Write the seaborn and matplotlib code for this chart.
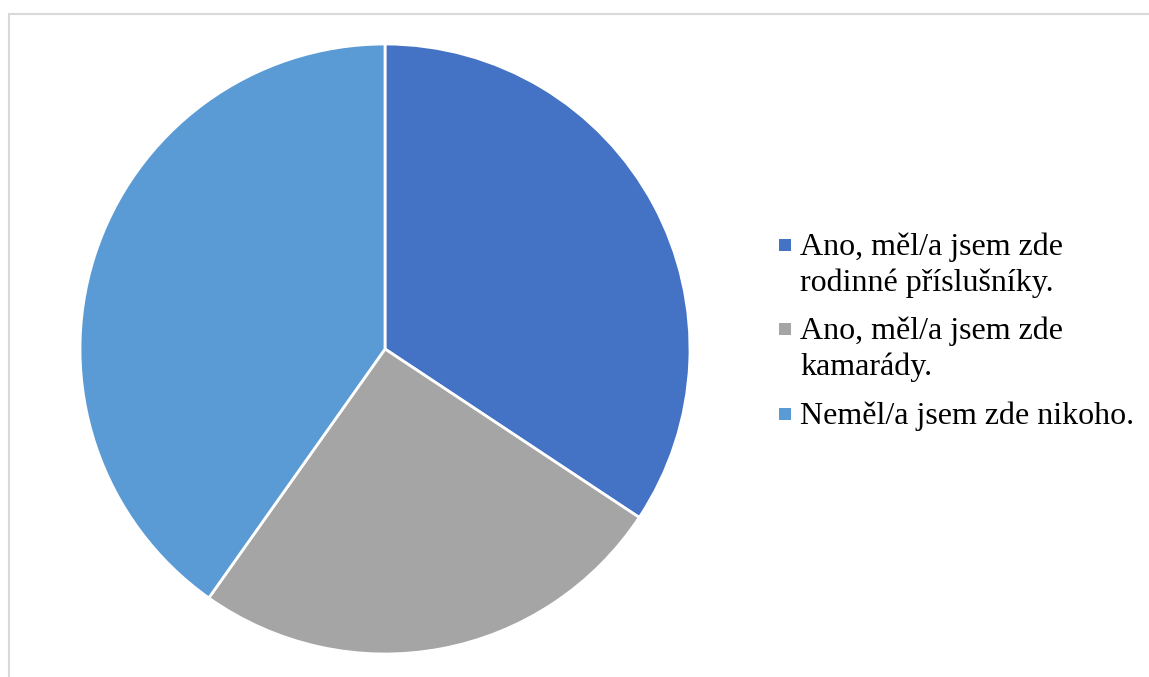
import matplotlib
matplotlib.use("Agg")
import matplotlib.pyplot as plt
import matplotlib.patches as mpatches
from matplotlib.lines import Line2D
import seaborn as sns

labels = [
    "Ano, měl/a jsem zde\nrodinné příslušníky.",
    "Ano, měl/a jsem zde\nkamarády.",
    "Neměl/a jsem zde nikoho.",
]
counts = [35, 26, 41]
colors = ["#4472C4", "#A5A5A5", "#5B9BD5"]

sns.set_theme(style="white")
plt.rcParams["font.family"] = ["Liberation Serif", "DejaVu Serif"]

W, H = 1149, 677
fig = plt.figure(figsize=(W / 100, H / 100), dpi=100)

# pie centered at (385, 349) px, radius 305 px
cx, cy, r = 385, 349, 305
ax = fig.add_axes([(cx - r) / W, (H - cy - r) / H, 2 * r / W, 2 * r / H])
wedges, _ = ax.pie(
    counts,
    colors=sns.color_palette(colors),
    startangle=90,
    counterclock=False,
    radius=1,
    wedgeprops=dict(edgecolor="white", linewidth=2, clip_on=False),
)
ax.set_xlim(-1, 1)
ax.set_ylim(-1, 1)
ax.set_aspect("equal")
ax.axis("off")

# chart area border (top and left visible)
fig.add_artist(Line2D([8.5 / W, 8.5 / W], [0, 1 - 13.5 / H], color="#D9D9D9", lw=1.5))
fig.add_artist(Line2D([8.5 / W, 1], [1 - 13.5 / H, 1 - 13.5 / H], color="#D9D9D9", lw=1.5))

# legend: marker aligned with the first line, wrapped text
first_baselines = [255, 339, 424]
line_step = 36
sq = 12
for lab, col, y0 in zip(labels, colors, first_baselines):
    fig.add_artist(mpatches.Rectangle(
        (779 / W, (H - y0 + 4) / H), sq / W, sq / H,
        facecolor=col, edgecolor="none", transform=fig.transFigure))
    for i, line in enumerate(lab.split("\n")):
        fig.text(800 / W, (H - y0 - i * line_step) / H, line,
                 fontsize=23, color="black", va="baseline", ha="left")

fig.savefig("out.png", dpi=100)
